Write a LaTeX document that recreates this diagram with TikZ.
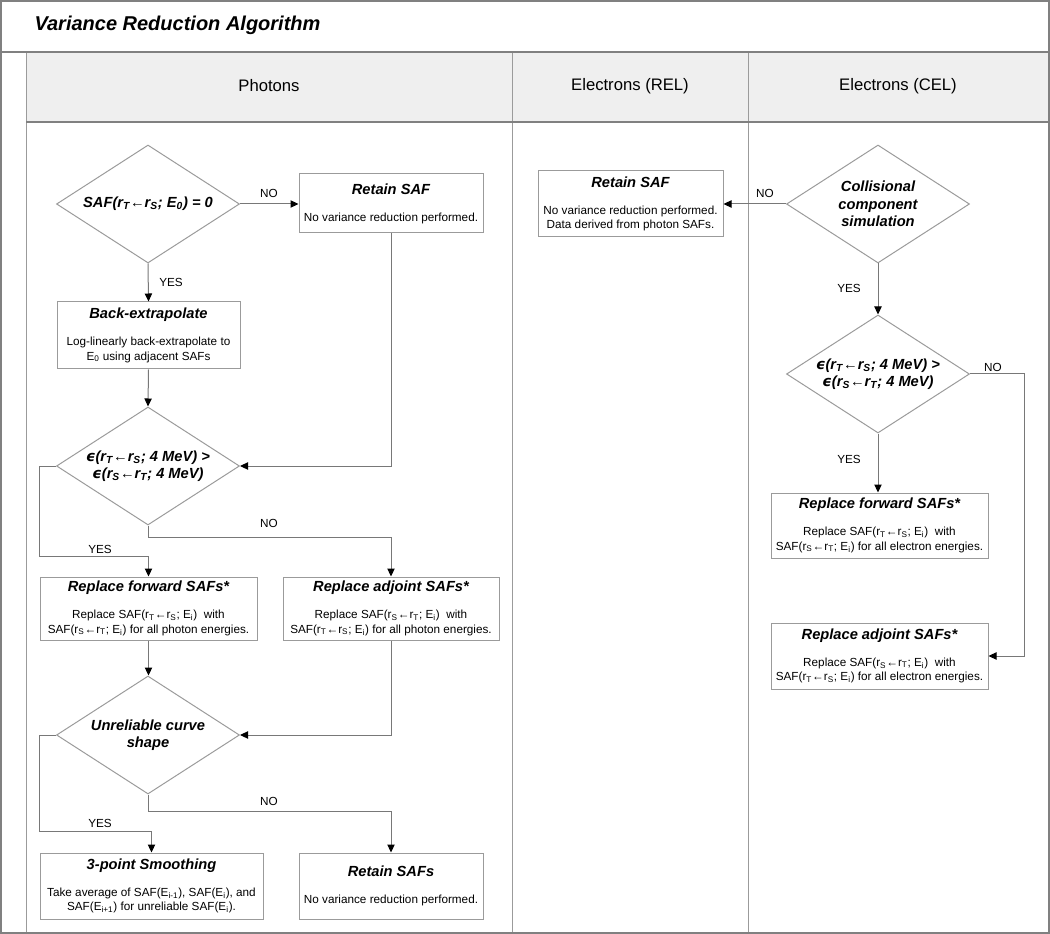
\documentclass[tikz,border=0pt]{standalone}
\usepackage{fontspec}
\setmainfont{Liberation Sans}
\newfontfamily\epsfont{DejaVu Sans}
\usetikzlibrary{shapes.geometric,arrows.meta,calc}

\definecolor{framegray}{RGB}{128,128,128}
\definecolor{boxgray}{RGB}{155,155,155}
\definecolor{linegray}{RGB}{120,120,120}
\definecolor{headfill}{RGB}{239,239,239}

\newcommand{\ttl}{\fontsize{11}{13}\selectfont\bfseries\itshape}
\newcommand{\bdy}{\fontsize{8.8}{10.8}\selectfont}
\newcommand{\sbs}[1]{\textsubscript{#1}}
\newcommand{\eps}{{\epsfont ϵ}}

\tikzset{every picture/.style={line width=0.75pt}}
\tikzset{
  box/.style={draw=boxgray, rectangle, align=center, font=\bdy, inner sep=2pt},
  decision/.style={draw=boxgray, diamond, inner sep=0pt, minimum width=137.25pt, minimum height=88.5pt},
  dtext/.style={font=\ttl, align=center, inner sep=0pt},
  flow/.style={draw=linegray, -{Triangle[length=6pt,width=5.5pt,color=black]}},
  lbl/.style={font=\bdy, inner sep=0.75pt},
  head/.style={font=\fontsize{12.5}{15}\selectfont, inner sep=0.75pt}
}

\begin{document}
\begin{tikzpicture}[x=0.75pt,y=0.75pt,yscale=-1,xscale=1]
\useasboundingbox (0,0) rectangle (1050,934);

%Shape: Header band
\fill [headfill] (26,52) rectangle (1049,122);
%Straight Lines: lanes
\draw [boxgray] (26,52) -- (26,933);
\draw [boxgray] (512,52) -- (512,933);
\draw [boxgray] (748,52) -- (748,933);
\draw [framegray, line width=1.5pt] (26,122) -- (1049,122);
\draw [framegray, line width=1.5pt] (0,52) -- (1049,52);
%Shape: Frame
\draw [framegray, line width=1.5pt] (0.75,0.75) -- (1048.5,0.75) -- (1048.5,932.5) -- (0.75,932.5) -- cycle;

% Text Node
\node [anchor=west, inner sep=0.75pt, font=\fontsize{15}{18}\selectfont\bfseries\itshape] (title) at (33,25) {Variance Reduction Algorithm};
\node [head] (hph) at (269,86) {Photons};
\node [head] (hrel) at (630,86) {Electrons (REL)};
\node [head] (hcel) at (898,86) {Electrons (CEL)};

%Photons
\node [decision] (d1) at (148,204) {};
\node [dtext] (d1t) at (d1) {SAF(r\sbs{T}←r\sbs{S}; E\sbs{0}) = 0};
\node [box, minimum width=138pt, minimum height=44.25pt] (ret1) at (391,203.5) {{\ttl Retain SAF}\\[9.5pt]No variance reduction performed.};
\node [box, minimum width=137.25pt, minimum height=50.25pt] (back) at (148.5,335.5) {{\ttl Back-extrapolate}\\[9.5pt]Log-linearly back-extrapolate to\\E\sbs{0} using adjacent SAFs};
\node [decision] (d2) at (148,466) {};
\node [dtext] (d2t) at (d2) {\eps(r\sbs{T}←r\sbs{S}; 4 MeV) >\\\eps(r\sbs{S}←r\sbs{T}; 4 MeV)};
\node [box, minimum width=162.75pt, minimum height=47.25pt] (fwd1) at (148.5,608.5) {{\ttl Replace forward SAFs*}\\[9.5pt]Replace SAF(r\sbs{T}←r\sbs{S}; E\sbs{i})\ \ with\\SAF(r\sbs{S}←r\sbs{T}; E\sbs{i}) for all photon energies.};
\node [box, minimum width=162pt, minimum height=47.25pt] (adj1) at (391,608.5) {{\ttl Replace adjoint SAFs*}\\[9.5pt]Replace SAF(r\sbs{S}←r\sbs{T}; E\sbs{i})\ \ with\\SAF(r\sbs{T}←r\sbs{S}; E\sbs{i}) for all photon energies.};
\node [decision] (d3) at (148,735) {};
\node [dtext] (d3t) at (d3) {Unreliable curve\\shape};
\node [box, minimum width=167.25pt, minimum height=49.5pt] (smooth) at (151.5,886) {{\ttl 3-point Smoothing}\\[9.5pt]Take average of SAF(E\sbs{i-1}), SAF(E\sbs{i}), and\\SAF(E\sbs{i+1}) for unreliable SAF(E\sbs{i}).};
\node [box, minimum width=138pt, minimum height=49.5pt] (ret2) at (391,886) {{\ttl Retain SAFs}\\[9.5pt]No variance reduction performed.};

%Electrons (REL)
\node [box, minimum width=138.75pt, minimum height=49.5pt] (retrel) at (630.5,204) {{\ttl Retain SAF}\\[9.5pt]No variance reduction performed.\\Data derived from photon SAFs.};

%Electrons (CEL)
\node [decision] (d4) at (878,204) {};
\node [dtext] (d4t) at (d4) {Collisional\\component\\simulation};
\node [decision] (d5) at (878,374) {};
\node [dtext] (d5t) at (d5) {\eps(r\sbs{T}←r\sbs{S}; 4 MeV) >\\\eps(r\sbs{S}←r\sbs{T}; 4 MeV)};
\node [box, minimum width=162.75pt, minimum height=48.75pt] (fwd2) at (879.5,525.5) {{\ttl Replace forward SAFs*}\\[9.5pt]Replace SAF(r\sbs{T}←r\sbs{S}; E\sbs{i})\ \ with\\SAF(r\sbs{S}←r\sbs{T}; E\sbs{i}) for all electron energies.};
\node [box, minimum width=162.75pt, minimum height=49.5pt] (adj2) at (879.5,656) {{\ttl Replace adjoint SAFs*}\\[9.5pt]Replace SAF(r\sbs{S}←r\sbs{T}; E\sbs{i})\ \ with\\SAF(r\sbs{T}←r\sbs{S}; E\sbs{i}) for all electron energies.};

%Connectors
\draw [flow] (d1.east) -- (d1.east -| ret1.west);
\draw [flow] (d1.south) -- (back.north);
\draw [flow] (ret1.south) |- (d2.east);
\draw [flow] (back.south) -- (d2.north);
\draw [flow] (d2.west) -- ++(-17,0) |- ($(fwd1.north)+(0,-20)$) -- (fwd1.north);
\draw [flow] (d2.south) -- ++(0,12) -| (adj1.north);
\draw [flow] (fwd1.south) -- (fwd1.south |- d3.north);
\draw [flow] (adj1.south) |- (d3.east);
\draw [flow] (d3.west) -- ++(-17,0) |- ($(smooth.north)+(0,-21)$) -- (smooth.north);
\draw [flow] (d3.south) -- ++(0,17) -| (ret2.north);
\draw [flow] (d4.west) -- (d4.west -| retrel.east);
\draw [flow] (d4.south) -- (d5.north);
\draw [flow] (d5.south) -- (d5.south |- fwd2.north);
\draw [flow] (d5.east) -- ++(54,0) |- (adj2.east);

% Text Node: labels
\node [lbl] (no1) at (269,193) {NO};
\node [lbl] (yes1) at (171,282) {YES};
\node [lbl] (yes2) at (100,549) {YES};
\node [lbl] (no2) at (269,523) {NO};
\node [lbl] (yes3) at (100,823) {YES};
\node [lbl] (no3) at (269,801) {NO};
\node [lbl] (no4) at (765,193) {NO};
\node [lbl] (yes4) at (849,288) {YES};
\node [lbl] (yes5) at (849,459) {YES};
\node [lbl] (no5) at (993,367) {NO};

\end{tikzpicture}
\end{document}
